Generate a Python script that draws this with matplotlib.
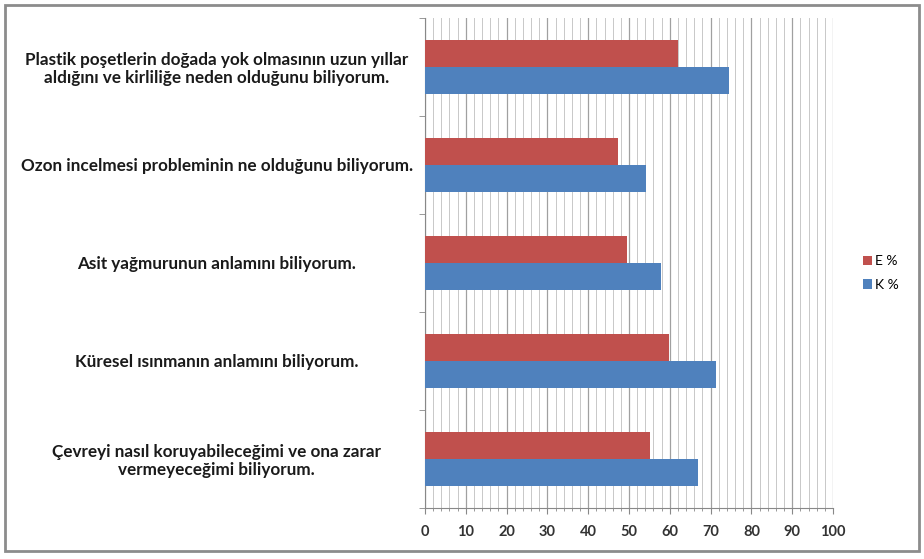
import matplotlib.pyplot as plt
import numpy as np
from matplotlib.patches import Rectangle
from matplotlib.ticker import MultipleLocator

categories = [
    "Plastik poşetlerin doğada yok olmasının uzun yıllar\naldığını ve kirliliğe neden olduğunu biliyorum.",
    "Ozon incelmesi probleminin ne olduğunu biliyorum.",
    "Asit yağmurunun anlamını biliyorum.",
    "Küresel ısınmanın anlamını biliyorum.",
    "Çevreyi nasıl koruyabileceğimi ve ona zarar\nvermeyeceğimi biliyorum.",
]
e_pct = [62.0, 47.4, 49.5, 59.7, 55.2]
k_pct = [74.6, 54.1, 57.9, 71.4, 67.0]

plt.rcParams['font.family'] = ['Lato', 'DejaVu Sans']

fig = plt.figure(figsize=(9.24, 5.59), dpi=100)
ax = fig.add_axes([425 / 924, 1 - 508 / 559, 408 / 924, 490 / 559])

y = np.arange(len(categories))
h = 0.28
ax.barh(y - h / 2, e_pct, height=h, color="#C0504D", label="E %", zorder=3)
ax.barh(y + h / 2, k_pct, height=h, color="#4F81BD", label="K %", zorder=3)

ax.set_xlim(0, 100)
ax.set_ylim(len(categories) - 0.5, -0.5)
ax.xaxis.set_major_locator(MultipleLocator(10))
ax.xaxis.set_minor_locator(MultipleLocator(2))
ax.grid(axis="x", which="major", color="#a0a0a0", linewidth=0.9, zorder=0)
ax.grid(axis="x", which="minor", color="#c8c8c8", linewidth=0.7, zorder=0)

ax.set_yticks(y)
ax.set_yticklabels(categories, fontsize=12.3, fontweight="bold", color="#1a1a1a",
                   ha="center", multialignment="center", linespacing=1.12)
ax.tick_params(axis="y", length=0, pad=150)
ax.set_yticks(np.arange(-0.5, len(categories)), minor=True)
ax.tick_params(axis="y", which="minor", length=4, color="#888888")
ax.tick_params(axis="x", which="major", length=4, color="#888888", pad=8,
               labelsize=10.5, labelcolor="#333333")
ax.tick_params(axis="x", which="minor", length=2, color="#888888")
for lab in ax.get_xticklabels():
    lab.set_fontweight("bold")

for side in ["top", "right"]:
    ax.spines[side].set_visible(False)
ax.spines["left"].set_color("#888888")
ax.spines["bottom"].set_color("#888888")

fig.legend(loc="center left", bbox_to_anchor=(850 / 924, 1 - 273 / 559),
           frameon=False, fontsize=10, handlelength=0.7, handleheight=0.7,
           handletextpad=0.2, labelspacing=0.8)

fig.patches.append(Rectangle((5 / 924, 8 / 559), 914 / 924, 546 / 559,
                             transform=fig.transFigure, fill=False,
                             edgecolor="#8c8c8c", linewidth=2))

plt.savefig("out.png", dpi=100)
